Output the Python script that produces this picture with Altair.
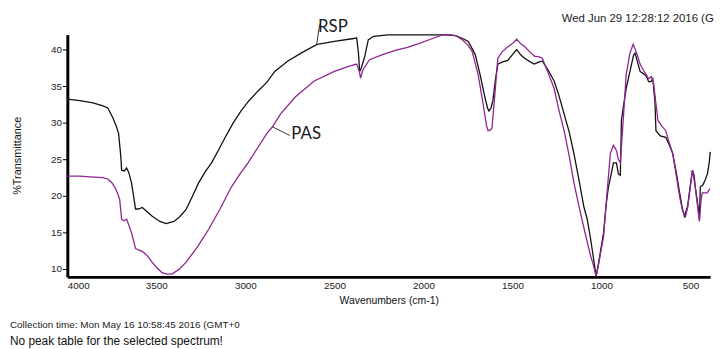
import altair as alt
import pandas as pd

# RSP spectrum (wavenumber, %T)
rsp_wn = [4000, 3930, 3856, 3800, 3773, 3745, 3725, 3712, 3700, 3695, 3680, 3667, 3655, 3640, 3625,
          3617, 3600, 3579, 3555, 3523, 3480, 3445, 3401, 3370, 3334, 3300, 3262, 3225, 3190, 3150,
          3113, 3070, 3024, 2980, 2930, 2880, 2835, 2763, 2680, 2597, 2500, 2392, 2375, 2365, 2358,
          2350, 2330, 2310, 2280, 2200, 2050, 1950, 1875, 1820, 1780, 1748, 1709, 1682, 1654, 1640,
          1632, 1620, 1610, 1595, 1582, 1555, 1526, 1500, 1476, 1455, 1432, 1400, 1377, 1350, 1332,
          1300, 1266, 1240, 1210, 1180, 1155, 1125, 1099, 1080, 1061, 1045, 1030, 1015, 988, 975,
          961, 945, 933, 916, 905, 894, 888, 875, 861, 840, 820, 811, 800, 783, 765, 750, 735, 722,
          712, 700, 694, 670, 639, 620, 600, 580, 561, 545, 534, 517, 500, 489, 480, 473, 460, 450,
          445, 430, 417, 405, 395, 389]
rsp_t = [33.2, 33.0, 32.7, 32.3, 32.0, 30.7, 29.5, 28.5, 25.5, 23.5, 23.4, 23.8, 23.2, 21.8, 19.5,
         18.2, 18.2, 18.4, 17.9, 17.2, 16.5, 16.2, 16.5, 17.1, 18.1, 19.8, 21.8, 23.3, 24.5, 26.3,
         28.0, 29.9, 31.6, 33.0, 34.3, 35.5, 37.0, 38.4, 39.6, 40.7, 41.1, 41.5, 41.6, 39.5, 37.0,
         37.4, 39.0, 41.3, 41.8, 42.0, 42.0, 42.0, 42.0, 41.9, 41.5, 41.1, 39.3, 36.6, 33.4, 32.0,
         31.6, 32.0, 33.0, 36.0, 38.0, 38.3, 38.5, 39.3, 40.0, 39.3, 38.8, 38.3, 38.0, 38.3, 38.4,
         37.2, 35.7, 33.8, 31.2, 28.6, 25.8, 22.0, 18.5, 16.8, 14.1, 11.5, 9.0, 11.0, 15.0, 18.5,
         21.2, 23.0, 24.5, 24.5, 23.0, 22.8, 30.3, 32.5, 34.7, 37.0, 39.2, 39.5, 38.5, 37.0, 36.7,
         36.4, 35.6, 35.6, 36.0, 33.0, 28.9, 28.2, 28.0, 27.0, 25.8, 23.2, 20.4, 18.2, 17.2, 18.5,
         21.5, 23.5, 22.8, 21.2, 19.0, 16.8, 21.2, 21.5, 22.2, 23.0, 24.5, 26.0]

# PAS spectrum (wavenumber, %T)
pas_wn = [4000, 3930, 3872, 3800, 3773, 3750, 3734, 3720, 3706, 3695, 3680, 3667, 3655, 3640, 3617,
          3600, 3579, 3550, 3523, 3490, 3468, 3440, 3412, 3370, 3334, 3270, 3207, 3140, 3079, 3030,
          2985, 2930, 2880, 2846, 2802, 2720, 2613, 2500, 2420, 2375, 2360, 2353, 2340, 2303, 2230,
          2153, 2090, 2026, 1960, 1893, 1850, 1820, 1780, 1750, 1726, 1693, 1665, 1645, 1637, 1622,
          1615, 1600, 1582, 1560, 1530, 1500, 1476, 1455, 1432, 1400, 1377, 1350, 1332, 1300, 1266,
          1240, 1210, 1180, 1155, 1130, 1110, 1085, 1061, 1045, 1030, 1015, 988, 970, 950, 933, 916,
          905, 894, 878, 861, 840, 822, 805, 783, 765, 750, 735, 720, 708, 683, 660, 639, 620, 600,
          580, 561, 545, 528, 515, 500, 489, 475, 460, 450, 440, 434, 415, 406, 398, 390]
pas_t = [22.7, 22.7, 22.6, 22.5, 22.3, 21.8, 21.2, 20.5, 19.5, 16.8, 16.6, 16.8, 16.0, 15.0, 12.8,
         12.6, 12.4, 11.8, 10.9, 10.0, 9.5, 9.3, 9.3, 10.0, 10.9, 13.0, 15.4, 18.3, 21.2, 23.0,
         24.5, 26.6, 28.5, 29.5, 31.2, 33.5, 35.7, 37.0, 37.7, 38.0, 37.0, 36.1, 37.2, 38.6, 39.3,
         39.9, 40.3, 40.8, 41.4, 42.0, 42.0, 41.9, 41.3, 40.6, 39.7, 36.6, 32.6, 29.5, 28.9, 29.0,
         29.3, 33.5, 38.8, 39.6, 40.3, 40.8, 41.4, 40.8, 40.4, 39.6, 39.1, 39.0, 38.8, 36.8, 34.7,
         31.8, 28.9, 25.3, 21.8, 19.0, 16.8, 14.2, 11.8, 10.5, 9.0, 10.8, 14.5, 20.0, 25.8, 26.9, 26.2,
         25.0, 24.5, 30.3, 36.6, 39.5, 40.7, 39.7, 38.0, 37.2, 36.6, 36.0, 36.3, 35.5, 30.3, 29.5, 28.9,
         27.3, 25.8, 22.8, 19.9, 18.0, 17.2, 18.5, 21.5, 23.5, 21.5, 18.5, 16.5, 19.5, 20.4, 20.4, 20.4,
         20.7, 21.0]

x_ticks = [4000, 3500, 3000, 2500, 2000, 1500, 1000, 500]
y_ticks = [10, 15, 20, 25, 30, 35, 40]

# curve labels and their leader lines
lab_names = ["RSP", "PAS"]
lab_wn = [2592, 2742]
lab_t = [43.1, 28.38]
lead_wn1 = [2600, 2850]
lead_t1 = [40.68, 29.46]
lead_wn2 = [2583, 2750]
lead_t2 = [43.38, 28.24]

series = ["RSP"] * len(rsp_wn) + ["PAS"] * len(pas_wn)
df = pd.DataFrame({
    "wn": rsp_wn + pas_wn,
    "t": rsp_t + pas_t,
    "series": series,
    "order": list(range(len(rsp_wn))) + list(range(len(pas_wn))),
})
labels = pd.DataFrame({"name": lab_names, "wn": lab_wn, "t": lab_t})
leaders = pd.DataFrame({"wn1": lead_wn1, "t1": lead_t1, "wn2": lead_wn2, "t2": lead_t2})

xscale = alt.Scale(domain=[4000, 390], nice=False, zero=False)
yscale = alt.Scale(domain=[8.92, 42.03], nice=False, zero=False)

lines = alt.Chart(df).mark_line(strokeWidth=1.3, interpolate="linear").encode(
    x=alt.X("wn:Q", scale=xscale,
            axis=alt.Axis(values=x_ticks, title="Wavenumbers (cm-1)", tickSize=0, labelPadding=4,
                          grid=False, format="d", titleX=325, titleY=24, titleBaseline="middle",
                          titleFontSize=10.5)),
    y=alt.Y("t:Q", scale=yscale,
            axis=alt.Axis(values=y_ticks, title="%Transmittance", tickSize=5, labelPadding=1,
                          grid=False, titleX=-50, titleY=122, titleAngle=270,
                          titleBaseline="middle", titleAlign="center", titleFontSize=11)),
    color=alt.Color("series:N", scale=alt.Scale(domain=["PAS", "RSP"], range=["#8e2492", "#111111"]),
                    legend=None),
    order="order:Q",
    detail="series:N",
)

lead = alt.Chart(leaders).mark_rule(color="#333333", strokeWidth=1).encode(
    x=alt.X("wn1:Q", scale=xscale), x2="wn2:Q",
    y=alt.Y("t1:Q", scale=yscale), y2="t2:Q",
)

txt = alt.Chart(labels).mark_text(align="left", baseline="middle", font="Lato", fontSize=17,
                                  color="#1a1a1a").encode(
    x=alt.X("wn:Q", scale=xscale), y=alt.Y("t:Q", scale=yscale), text="name:N"
)

notes = pd.DataFrame({
    "s": ["Wed Jun 29 12:28:12 2016 (G", "Collection time: Mon May 16 10:58:45 2016 (GMT+0",
          "No peak table for the selected spectrum!"],
})
top_note = alt.Chart(notes.iloc[[0]]).mark_text(align="left", baseline="middle", font="Liberation Sans",
                                               fontSize=11.5, color="#222222").encode(
    x=alt.value(500), y=alt.value(-16), text="s:N")
coll_note = alt.Chart(notes.iloc[[1]]).mark_text(align="left", baseline="middle", font="Liberation Sans",
                                                fontSize=10, color="#222222").encode(
    x=alt.value(-58), y=alt.value(294), text="s:N")
peak_note = alt.Chart(notes.iloc[[2]]).mark_text(align="left", baseline="middle", font="Liberation Sans",
                                                fontSize=12, color="#111111").encode(
    x=alt.value(-58), y=alt.value(310), text="s:N")

chart = alt.layer(lines, lead, txt, top_note, coll_note, peak_note).properties(
    width=650, height=245,
    autosize=alt.AutoSizeParams(type="none"),
    padding={"left": 60, "top": 25, "right": 7, "bottom": 71},
).configure_view(stroke=None).configure_axis(
    domainColor="black", domainWidth=3, tickColor="black", tickWidth=1,
    labelFont="Liberation Sans", labelFontSize=10, labelColor="#222222",
    titleFont="Liberation Sans", titleFontSize=10, titleFontWeight="normal", titleColor="#111111",
)

chart.save("out.html", embed_options={"renderer": "svg", "actions": False})
